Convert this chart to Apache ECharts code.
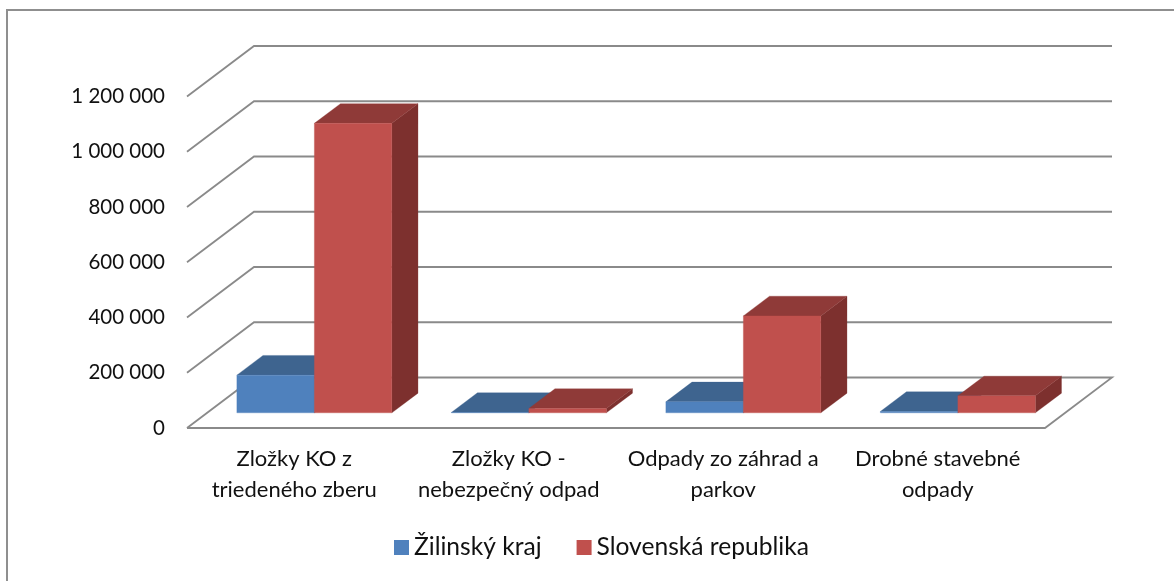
<!DOCTYPE html>
<html><head><meta charset="utf-8">
<style>html,body{margin:0;padding:0;background:#fff}#c{width:1174px;height:581px}</style>
<script src="https://cdn.jsdelivr.net/npm/echarts@6/dist/echarts.min.js"></script>
</head><body><div id="c"></div>
<script>
var categories = ['Zložky KO z\ntriedeného zberu', 'Zložky KO -\nnebezpečný odpad', 'Odpady zo záhrad a\nparkov', 'Drobné stavebné\nodpady'];
var zilinskyKraj = [136500, 1500, 40000, 5000];
var slovenskaRepublika = [1048000, 16000, 351000, 61500];
var yTicks = [0, 200000, 400000, 600000, 800000, 1000000, 1200000];

var FONT = 'Lato';
var wallDx = 67, wallDy = -50.5;
var barShift = 0.3, barDepth = 0.39;
var barW = 77.5;

function wallItem(params, api) {
  var v = api.value(0);
  var a = api.coord([0, v]);
  var r = params.coordSys;
  var x0 = r.x, x1 = r.x + r.width, y = a[1];
  var pts = [[x0, y], [x0 + wallDx, y + wallDy], [x1 + wallDx, y + wallDy]];
  if (v === 0) pts = pts.concat([[x1, y], [x0, y]]);
  return {type: 'polyline', shape: {points: pts},
    style: {fill: null, stroke: '#8a8a8a', lineWidth: 1.8}};
}
function poly(points, fill) {
  return {type: 'polygon', shape: {points: points}, style: {fill: fill, stroke: fill, lineWidth: 0.3}};
}
function barRender(side, front, top, dark) {
  return function (params, api) {
    var c = api.value(0), v = api.value(1);
    var base = api.coord([c, 0]), tip = api.coord([c, v]);
    var sx = wallDx * barShift, sy = wallDy * barShift;
    var dx = wallDx * barDepth, dy = wallDy * barDepth;
    var xa = base[0] + sx + (side < 0 ? -barW : 0);
    var xb = xa + barW;
    var yb = base[1] + sy, yt = tip[1] + sy;
    return {type: 'group', children: [
      poly([[xb, yb], [xb + dx, yb + dy], [xb + dx, yt + dy], [xb, yt]], dark),
      poly([[xa, yt], [xa + dx, yt + dy], [xb + dx, yt + dy], [xb, yt]], top),
      poly([[xa, yb], [xb, yb], [xb, yt], [xa, yt]], front)
    ]};
  };
}
function barData(vals) { return vals.map(function (v, i) { return [i, v]; }); }

var chart = echarts.init(document.getElementById('c'), null, {renderer: 'canvas'});
chart.setOption({
  animation: false,
  backgroundColor: '#fff',
  textStyle: {fontFamily: FONT},
  grid: {left: 187, right: 129, top: 96.5, bottom: 153},
  graphic: [
    {type: 'line', silent: true, z: -1, shape: {x1: 6, y1: 10, x2: 1174, y2: 10},
     style: {stroke: '#8f8f8f', lineWidth: 2}},
    {type: 'line', silent: true, z: -1, shape: {x1: 7, y1: 9, x2: 7, y2: 581},
     style: {stroke: '#8f8f8f', lineWidth: 2}}
  ],
  legend: {
    data: ['Žilinský kraj', 'Slovenská republika'],
    left: 394, top: 535, itemWidth: 15, itemHeight: 15, itemGap: 35, padding: 0,
    icon: 'rect',
    textStyle: {fontFamily: FONT, fontSize: 24.6, color: '#111'}
  },
  xAxis: {type: 'category', data: categories,
    axisLine: {show: false}, axisTick: {show: false}, splitLine: {show: false},
    axisLabel: {fontFamily: FONT, fontSize: 22, color: '#111', lineHeight: 31, margin: 15, interval: 0}},
  yAxis: {type: 'value', min: 0, max: 1200000, interval: 200000,
    axisLine: {show: false}, axisTick: {show: false}, splitLine: {show: false},
    axisLabel: {fontFamily: FONT, fontSize: 20.5, color: '#111', margin: 22,
      formatter: function (v) { return String(v).replace(/\B(?=(\d{3})+$)/g, ' '); }}},
  series: [
    {type: 'custom', name: 'walls', silent: true, z: 1, renderItem: wallItem, encode: {y: 0},
     data: yTicks.map(function (v) { return [v]; })},
    {type: 'custom', name: 'Žilinský kraj', z: 2, itemStyle: {color: '#4F81BD'},
     renderItem: barRender(-1, '#4F81BD', '#3E648F', '#34547A'),
     encode: {x: 0, y: 1}, data: barData(zilinskyKraj)},
    {type: 'custom', name: 'Slovenská republika', z: 3, itemStyle: {color: '#C0504D'},
     renderItem: barRender(1, '#C0504D', '#8F3A38', '#7D302E'),
     encode: {x: 0, y: 1}, data: barData(slovenskaRepublika)}
  ]
});
</script></body></html>
